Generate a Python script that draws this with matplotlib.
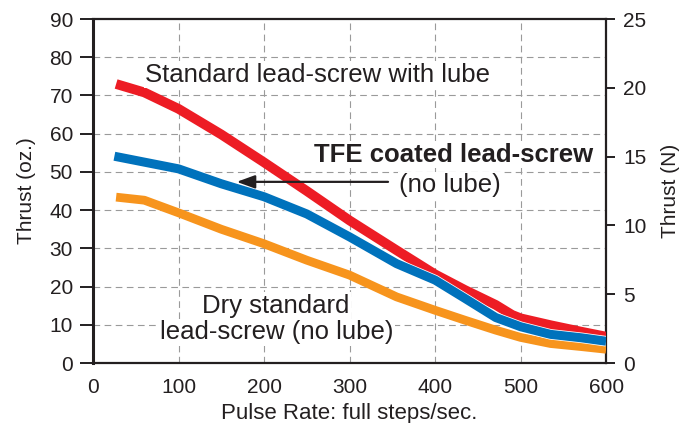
import matplotlib
matplotlib.use("Agg")
import matplotlib.pyplot as plt
import matplotlib.patheffects as pe

# values (oz. vs full steps/sec)
red_x = [27, 60, 100, 150, 200, 250, 300, 355, 400, 435, 471, 490, 500, 535, 571, 600]
red_y = [73.0, 70.8, 66.5, 59.8, 52.5, 45.0, 37.3, 29.5, 23.2, 19.1, 15.2, 12.6, 11.7, 9.9, 8.2, 6.9]

blue_x = [25, 100, 150, 200, 250, 300, 355, 400, 435, 471, 500, 535, 571, 600]
blue_y = [54.1, 50.8, 46.9, 43.5, 39.0, 33.0, 26.0, 21.7, 16.9, 11.9, 9.5, 7.5, 6.6, 5.7]

orange_x = [27, 60, 100, 150, 200, 250, 300, 355, 400, 435, 471, 500, 535, 571, 600]
orange_y = [43.4, 42.6, 39.3, 35.0, 31.2, 26.9, 23.0, 17.3, 13.8, 11.2, 8.6, 6.7, 5.1, 4.3, 3.6]

x_ticks = [0, 100, 200, 300, 400, 500, 600]
oz_ticks = [0, 10, 20, 30, 40, 50, 60, 70, 80, 90]
n_ticks = [0, 5, 10, 15, 20, 25]

ink = '#231f20'
plt.rcParams['font.family'] = ['Liberation Sans', 'DejaVu Sans']
plt.rcParams['text.color'] = ink

fig = plt.figure(figsize=(6.81, 4.23), dpi=100)
ax = fig.add_axes([0.1366, 0.1418, 0.7534, 0.8132])

ax.set_xlim(0, 600)
ax.set_ylim(0, 90)
ax.set_xticks(x_ticks)
ax.set_yticks(oz_ticks)

# dashed grid, skipping the ones on the frame
for v in x_ticks[1:-1]:
    ax.axvline(v, color='#9a9a9a', lw=0.8, ls=(0, (6, 4)), zorder=1)
for v in oz_ticks[1:-1]:
    ax.axhline(v, color='#9a9a9a', lw=0.8, ls=(0, (6, 4)), zorder=1)

ax.plot(red_x, red_y, color='#ed1c24', lw=7.0, solid_capstyle='butt', solid_joinstyle='round', zorder=3)
ax.plot(orange_x, orange_y, color='#f7941d', lw=6.3, solid_capstyle='butt', solid_joinstyle='round', zorder=3)
ax.plot(blue_x, blue_y, color='#0072bc', lw=6.5, solid_capstyle='butt', solid_joinstyle='round', zorder=4,
        path_effects=[pe.Stroke(linewidth=7.6, foreground='white'), pe.Normal()])

box = dict(facecolor='white', edgecolor='none', pad=1.0)
ax.text(61, 73.6, 'Standard lead-screw with lube', fontsize=18.5, ha='left', va='baseline', bbox=box, zorder=5)
ax.text(585, 52.7, 'TFE coated lead-screw', fontsize=18.5, fontweight='bold', ha='right', va='baseline', bbox=box, zorder=5)
ax.text(417.5, 44.8, '(no lube)', fontsize=18.5, ha='center', va='baseline', bbox=box, zorder=5)
ax.text(214, 13.2, 'Dry standard', fontsize=18.5, ha='center', va='baseline', bbox=box, zorder=5)
ax.text(215, 6.2, 'lead-screw (no lube)', fontsize=18.5, ha='center', va='baseline', bbox=box, zorder=5)

ax.annotate('', xy=(168, 47.4), xytext=(345, 47.4),
            arrowprops=dict(arrowstyle='-|>,head_length=1.1,head_width=0.4', color=ink, lw=1.6,
                            mutation_scale=10, shrinkA=0, shrinkB=0), zorder=6)

for side in ['top', 'right', 'bottom']:
    ax.spines[side].set_linewidth(1.6)
    ax.spines[side].set_color(ink)
ax.spines['left'].set_linewidth(2.2)
ax.spines['left'].set_color(ink)

ax.tick_params(axis='y', direction='out', length=9.5, width=1.4, color=ink, pad=5, labelsize=15, labelcolor=ink)
ax.tick_params(axis='x', length=0, pad=11, labelsize=15, labelcolor=ink)

ax.set_xlabel('Pulse Rate: full steps/sec.', fontsize=16, color=ink, labelpad=4)
ax.set_ylabel('Thrust (oz.)', fontsize=15, color=ink, labelpad=10)

ax2 = ax.twinx()
ax2.set_ylim(0, 25)
ax2.set_yticks(n_ticks)
for side in ['top', 'right', 'bottom', 'left']:
    ax2.spines[side].set_visible(False)
ax2.tick_params(axis='y', direction='out', length=6.5, width=1.4, color=ink, pad=6, labelsize=15, labelcolor=ink)
ax2.set_ylabel('Thrust (N)', fontsize=15, color=ink, labelpad=10)

fig.savefig('out.png', dpi=100)
